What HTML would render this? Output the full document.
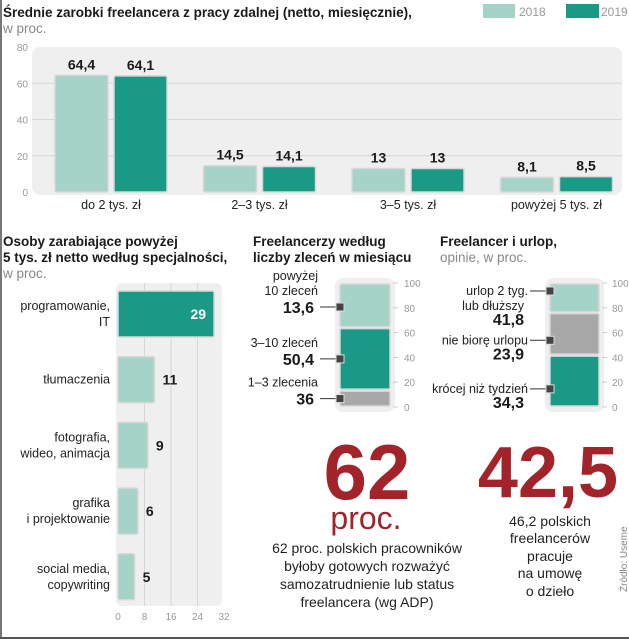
<!DOCTYPE html>
<html><head><meta charset="utf-8">
<style>
html,body{margin:0;padding:0;background:#fff;}
svg{display:block;font-family:"Liberation Sans",sans-serif;}
.t{font-weight:bold;font-size:13.5px;fill:#1a1a1a;}
.s{font-size:13.5px;fill:#888;}
.tick{font-size:10px;fill:#999;}
.lab{font-size:12.5px;fill:#222;}
.val{font-weight:bold;font-size:14px;fill:#1a1a1a;}
</style></head>
<body>
<svg id="svg" width="629" height="640" viewBox="0 0 629 640">
<line x1="1" y1="0" x2="1" y2="638" stroke="#777" stroke-width="2"/>
<line x1="0" y1="638" x2="629" y2="638" stroke="#555" stroke-width="2"/>
<text x="3" y="17" class="t">Średnie zarobki freelancera z pracy zdalnej (netto, miesięcznie),</text>
<text x="3" y="33" class="s">w proc.</text>
<rect x="483" y="4" width="32" height="14" fill="#a5d3c7"/>
<text x="519" y="16" font-size="12" fill="#999">2018</text>
<rect x="566" y="4" width="33" height="14" fill="#1a9a86"/>
<text x="601" y="16" font-size="12" fill="#999">2019</text>
<rect x="32" y="47" width="590" height="148" rx="8" fill="#efefef"/>
<g id="c1"></g>
<text x="3" y="246" class="t">Osoby zarabiające powyżej</text>
<text x="3" y="262" class="t">5 tys. zł netto według specjalności,</text>
<text x="3" y="278" class="s">w proc.</text>
<rect x="116" y="283" width="106" height="323" rx="6" fill="#efefef"/>
<g id="c2"></g>
<text x="253" y="246" class="t">Freelancerzy według</text>
<text x="253" y="262" class="t">liczby zleceń w miesiącu</text>
<rect x="335" y="278" width="60" height="134" rx="8" fill="#efefef"/>
<g id="c3"></g>
<text x="440" y="246" class="t">Freelancer i urlop,</text>
<text x="440" y="262" class="s">opinie, w proc.</text>
<rect x="545" y="278" width="59" height="134" rx="8" fill="#efefef"/>
<g id="c4"></g>
<text x="367" y="499" text-anchor="middle" font-size="78" font-weight="bold" fill="#a3232b">62</text>
<text x="366" y="529" text-anchor="middle" font-size="32" fill="#a3232b">proc.</text>
<g font-size="14" fill="#222" text-anchor="middle">
<text x="367" y="553">62 proc. polskich pracowników</text>
<text x="367" y="571">byłoby gotowych rozważyć</text>
<text x="367" y="589">samozatrudnienie lub status</text>
<text x="367" y="607">freelancera (wg ADP)</text>
</g>
<text x="548" y="497" text-anchor="middle" font-size="72" font-weight="bold" fill="#a3232b">42,5</text>
<g font-size="14" fill="#222" text-anchor="middle">
<text x="550" y="526">46,2 polskich</text>
<text x="550" y="543">freelancerów</text>
<text x="550" y="561">pracuje</text>
<text x="550" y="578">na umowę</text>
<text x="550" y="596">o dzieło</text>
</g>
<text transform="translate(627,592) rotate(-90)" font-size="10" fill="#888">Źródło: Useme</text>
</svg>
<script>
const c1Cats=["do 2 tys. zł","2–3 tys. zł","3–5 tys. zł","powyżej 5 tys. zł"];
const c1V2018=[64.4,14.5,13,8.1];
const c1V2019=[64.1,14.1,13,8.5];
const c1Labels2018=["64,4","14,5","13","8,1"];
const c1Labels2019=["64,1","14,1","13","8,5"];
const c1Ticks=[0,20,40,60,80];

const c2Cats=[["programowanie,","IT"],["tłumaczenia"],["fotografia,","wideo, animacja"],["grafika","i projektowanie"],["social media,","copywriting"]];
const c2Vals=[29,11,9,6,5];
const c2Ticks=[0,8,16,24,32];

// stacked segments listed bottom-to-top, as drawn in the reference
const c3Cats=[["1–3 zlecenia"],["3–10 zleceń"],["powyżej","10 zleceń"]];
const c3Vals=[13.6,50.4,36];
const c3Labels=["36","50,4","13,6"];
const c4Cats=[["krócej niż tydzień"],["nie biorę urlopu"],["urlop 2 tyg.","lub dłuższy"]];
const c4Vals=[41.8,34.3,23.9];
const c4Labels=["34,3","23,9","41,8"];
const stackTicks=[0,20,40,60,80,100];

const NS="http://www.w3.org/2000/svg";
function mk(p,tag,a,txt){const e=document.createElementNS(NS,tag);for(const k in a)e.setAttribute(k,a[k]);if(txt!=null)e.textContent=txt;p.appendChild(e);return e;}
const LIGHT="#a5d3c7",DARK="#1a9a86",GRAY="#a8a8a8";

(function(){
 const g=document.getElementById('c1');
 const y=v=>192-v*(145/80);
 c1Ticks.forEach(t=>{
  if(t>0&&t<80){const l=mk(g,'line',{x1:32,x2:622,y1:y(t),y2:y(t),stroke:'#d6d6d6'});
  
  }
  const tx=mk(g,'text',{x:28,y:y(t)+4,'text-anchor':'end',class:'tick'},String(t));
  
  
 });
 const bw=53;
 c1Cats.forEach((c,i)=>{
  const cx=111+i*148.5;
  [[c1V2018,LIGHT,c1Labels2018,-bw-3,'2018'],[c1V2019,DARK,c1Labels2019,3,'2019']].forEach(s=>{
   const v=s[0][i],x=cx+s[3];
   const r=mk(g,'rect',{x:x,y:y(v),width:bw,height:192-y(v),fill:s[1],stroke:'#d8d8d8','stroke-width':1.5,rx:1.5});
   
   
   const t=mk(g,'text',{x:x+bw/2,y:y(v)-6,'text-anchor':'middle',class:'val'},s[2][i]);
   
   
  });
  const lt=mk(g,'text',{x:cx,y:209,'text-anchor':'middle',class:'lab'},c);
  
  
 });
})();

(function(){
 const g=document.getElementById('c2');
 const x=v=>118+v*(106/32);
 c2Ticks.forEach(t=>{
  if(t>0&&t<32){const l=mk(g,'line',{x1:x(t),x2:x(t),y1:283,y2:606,stroke:'#d6d6d6'});
  
  }
  const tx=mk(g,'text',{x:x(t),y:620,'text-anchor':'middle',class:'tick'},String(t));
  
  
 });
 c2Cats.forEach((c,i)=>{
  const yc=314+i*65.7,v=c2Vals[i];
  const r=mk(g,'rect',{x:118,y:yc-23,width:x(v)-118,height:46,fill:i==0?DARK:LIGHT,stroke:'#d8d8d8','stroke-width':1.5,rx:1.5});
  
  
  const t=mk(g,'text',i==0?{x:x(v)-8,y:yc+5,'text-anchor':'end',class:'val',style:'fill:#fff'}:{x:x(v)+8,y:yc+5,class:'val'},String(v));
  
  
  const y0=yc+4-(c.length-1)*8;
  c.forEach((ln,j)=>{const lt=mk(g,'text',{x:110,y:y0+j*16,'text-anchor':'end',class:'lab'},ln);
   
   });
 });
})();

function stacked(id,cats,vals,labels,colors,bx,bw,tx,mode,prefix){
 const g=document.getElementById(id);
 const y=v=>407-v*1.24;
 stackTicks.forEach(t=>{
  const l=mk(g,'line',{x1:bx+bw+3,x2:bx+bw+8,y1:y(t),y2:y(t),stroke:'#ccc'});
  
  
  const tt=mk(g,'text',{x:tx,y:y(t)+4,class:'tick'},String(t));
  
  
 });
 let acc=0;
 cats.forEach((c,i)=>{
  const v=vals[i],y1=y(acc+v),y0=y(acc);
  const r=mk(g,'rect',{x:bx,y:y1+1,width:bw,height:y0-y1-2,fill:colors[i],stroke:'#d8d8d8','stroke-width':1.5,rx:1.5});
  
  
  let my;
  if(mode=='mid') my=(i==cats.length-1)?y1+24:(y0+y1)/2;
  else my=(i==cats.length-1)?y1+8:y0-0.35*(y0-y1);
  const lx=bx-22;
  if(mode=='mid'){
   const vt=mk(g,'text',{x:lx-4,y:my+6,'text-anchor':'end',class:'val',style:'font-size:16px'},labels[i]);
   
   
   const ly=my-12-(c.length-1)*15;
   c.forEach((ln,j)=>{const lt=mk(g,'text',{x:lx,y:ly+j*15,'text-anchor':'end',class:'lab'},ln);
    
    });
  } else {
   c.forEach((ln,j)=>{const lt=mk(g,'text',{x:lx-j*4,y:my+4+j*15,'text-anchor':'end',class:'lab'},ln);
    
    });
   const vt=mk(g,'text',{x:lx-4,y:my+4+c.length*15,'text-anchor':'end',class:'val',style:'font-size:16px'},labels[i]);
   
   
  }
  const ln=mk(g,'line',{x1:lx+2,x2:bx,y1:my,y2:my,stroke:'#333'});
  
  
  const m=mk(g,'rect',{x:bx-4,y:my-4,width:8,height:8,fill:'#444',stroke:'#ddd'});
  
  
  acc+=v;
 });
}
stacked('c3',c3Cats,c3Vals,c3Labels,[GRAY,DARK,LIGHT],340,50,404,'mid','chart3');
stacked('c4',c4Cats,c4Vals,c4Labels,[DARK,GRAY,LIGHT],550,49,612,'label','chart4');
</script>
</body></html>
